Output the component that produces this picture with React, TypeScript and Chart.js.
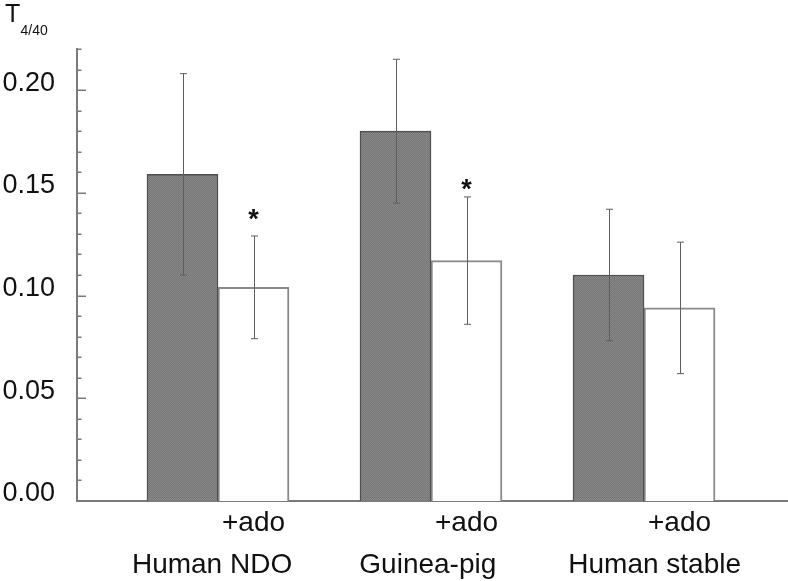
import React, { useEffect, useRef } from 'react';
import { Chart, registerables } from 'chart.js';

Chart.register(...registerables);

// ---- data ----
const groupNames = ['Human NDO', 'Guinea-pig', 'Human stable'];
const treatLabel = '+ado';
const groupX = [1, 2, 3];
const nameTickX = [0.972, 1.985, 3.05];

const controlMeans = [0.159, 0.180, 0.110];
const controlErrHigh = [0.208, 0.215, 0.142];
const controlErrLow = [0.110, 0.145, 0.078];

const adoMeans = [0.104, 0.117, 0.094];
const adoErrHigh = [0.129, 0.148, 0.126];
const adoErrLow = [0.079, 0.086, 0.062];

// significance marker (asterisk) heights, null = none
const adoStarY: (number | null)[] = [0.140, 0.155, null];

const yMin = 0;
const yMax = 0.22;
const yMinorStep = 0.01;
const yMajorEvery = 5; // every 0.05

const xMin = 0.338;
const xMax = 3.676;

const titleMain = 'T';
const titleSub = '4/40';

const FONT = "'Liberation Sans', Arial, Helvetica, sans-serif";
const AXIS_COLOR = '#7a7a7a';
const TEXT_COLOR = '#111111';

export default function App() {
  const canvasRef = useRef<HTMLCanvasElement | null>(null);

  useEffect(() => {
    const canvas = canvasRef.current;
    if (!canvas) return;
    const ctx = canvas.getContext('2d');
    if (!ctx) return;

    // fine stipple fill for the dark bars
    const pc = document.createElement('canvas');
    pc.width = 2;
    pc.height = 2;
    const pctx = pc.getContext('2d')!;
    pctx.fillStyle = '#777777';
    pctx.fillRect(0, 0, 2, 2);
    pctx.fillStyle = '#888888';
    pctx.fillRect(0, 0, 1, 1);
    pctx.fillRect(1, 1, 1, 1);
    const darkFill = ctx.createPattern(pc, 'repeat') || '#7f7f7f';

    const errHigh = [controlErrHigh, adoErrHigh];
    const errLow = [controlErrLow, adoErrLow];

    const decorPlugin = {
      id: 'decor',
      afterDatasetsDraw(chart: any) {
        const c = chart.ctx;
        const ys = chart.scales.y;
        c.save();
        c.strokeStyle = '#5e5e5e';
        c.lineWidth = 1;
        chart.data.datasets.forEach((_ds: any, di: number) => {
          const meta = chart.getDatasetMeta(di);
          meta.data.forEach((bar: any, i: number) => {
            const x = Math.round(bar.x) + 0.5;
            const yh = ys.getPixelForValue(errHigh[di][i]);
            const yl = ys.getPixelForValue(errLow[di][i]);
            c.beginPath();
            c.moveTo(x, yh);
            c.lineTo(x, yl);
            c.moveTo(x - 3.5, yh);
            c.lineTo(x + 3.5, yh);
            c.moveTo(x - 3.5, yl);
            c.lineTo(x + 3.5, yl);
            c.stroke();
          });
        });
        const adoMeta = chart.getDatasetMeta(1);
        c.fillStyle = TEXT_COLOR;
        c.font = `bold 27px ${FONT}`;
        c.textAlign = 'center';
        c.textBaseline = 'alphabetic';
        adoStarY.forEach((v, i) => {
          if (v == null) return;
          const bar: any = adoMeta.data[i];
          const y = ys.getPixelForValue(v);
          c.fillText('*', bar.x, y + 15);
        });
        c.restore();
      },
      afterDraw(chart: any) {
        const c = chart.ctx;
        const ys = chart.scales.y;
        const left = chart.chartArea.left;
        c.save();
        c.strokeStyle = AXIS_COLOR;
        c.lineWidth = 1.5;
        ys.ticks.forEach((t: any) => {
          const y = Math.round(ys.getPixelForValue(t.value)) + 0.25;
          const major = Math.round(t.value / yMinorStep) % yMajorEvery === 0;
          c.beginPath();
          c.moveTo(left, y);
          c.lineTo(left + (major ? 9 : 4.5), y);
          c.stroke();
        });
        c.fillStyle = TEXT_COLOR;
        c.textAlign = 'left';
        c.textBaseline = 'alphabetic';
        c.font = `25px ${FONT}`;
        c.fillText(titleMain, 5, 22);
        c.font = `14px ${FONT}`;
        c.fillText(titleSub, 20.5, 35);
        c.restore();
      },
    };

    const xCommon = {
      type: 'linear',
      position: 'bottom',
      min: xMin,
      max: xMax,
      offset: false,
      bounds: 'data',
    };

    const chart = new Chart(ctx, {
      type: 'bar',
      data: {
        datasets: [
          {
            label: 'control',
            data: groupX.map((x, i) => ({ x, y: controlMeans[i] })),
            backgroundColor: darkFill as any,
            borderColor: '#4f4f4f',
            borderWidth: 1.5,
            xAxisID: 'x',
            yAxisID: 'y',
          },
          {
            label: treatLabel,
            data: groupX.map((x, i) => ({ x, y: adoMeans[i] })),
            backgroundColor: '#ffffff',
            borderColor: '#8a8a8a',
            borderWidth: 2,
            xAxisID: 'x',
            yAxisID: 'y',
          },
        ],
      },
      options: {
        responsive: false,
        animation: false,
        devicePixelRatio: 1,
        layout: { padding: { top: 49, left: 0, right: 0, bottom: 0 } },
        datasets: {
          bar: { barThickness: 71, grouped: true, borderSkipped: 'start' } as any,
        },
        plugins: {
          legend: { display: false },
          tooltip: { enabled: false },
          title: { display: false },
        },
        scales: {
          x: {
            ...xCommon,
            weight: 0,
            afterBuildTicks: (s: any) => {
              s.ticks = groupX.map((x) => ({ value: x + 1 / 6 }));
            },
            afterFit: (s: any) => {
              s.height = 40;
            },
            ticks: {
              callback: () => treatLabel,
              autoSkip: false,
              maxRotation: 0,
              minRotation: 0,
              padding: 5,
              color: TEXT_COLOR,
              font: { family: FONT, size: 28 },
            },
            grid: { display: false, drawTicks: false, offset: false },
            border: { display: true, color: AXIS_COLOR, width: 2 },
          } as any,
          x2: {
            ...xCommon,
            axis: 'x',
            weight: 1,
            afterBuildTicks: (s: any) => {
              s.ticks = nameTickX.map((x) => ({ value: x }));
            },
            afterFit: (s: any) => {
              s.height = 40;
            },
            ticks: {
              callback: (_v: any, i: number) => groupNames[i],
              autoSkip: false,
              maxRotation: 0,
              minRotation: 0,
              padding: 7,
              color: TEXT_COLOR,
              font: { family: FONT, size: 28 },
            },
            grid: { display: false, drawTicks: false, offset: false },
            border: { display: false },
          } as any,
          y: {
            type: 'linear',
            position: 'left',
            min: yMin,
            max: yMax,
            afterFit: (s: any) => {
              s.width = 77;
            },
            ticks: {
              stepSize: yMinorStep,
              autoSkip: false,
              padding: 22,
              labelOffset: -7,
              color: TEXT_COLOR,
              font: { family: FONT, size: 27 },
              callback: (v: any) => {
                const n = Math.round(Number(v) / yMinorStep);
                return n % yMajorEvery === 0 ? (n * yMinorStep).toFixed(2) : '';
              },
            },
            grid: { display: false, drawTicks: false },
            border: { display: true, color: AXIS_COLOR, width: 2 },
          },
        },
      },
      plugins: [decorPlugin],
    });

    return () => {
      chart.destroy();
    };
  }, []);

  return (
    <canvas
      ref={canvasRef}
      width={788}
      height={581}
      style={{ position: 'absolute', left: 0, top: 0, width: 788, height: 581, display: 'block' }}
    />
  );
}
